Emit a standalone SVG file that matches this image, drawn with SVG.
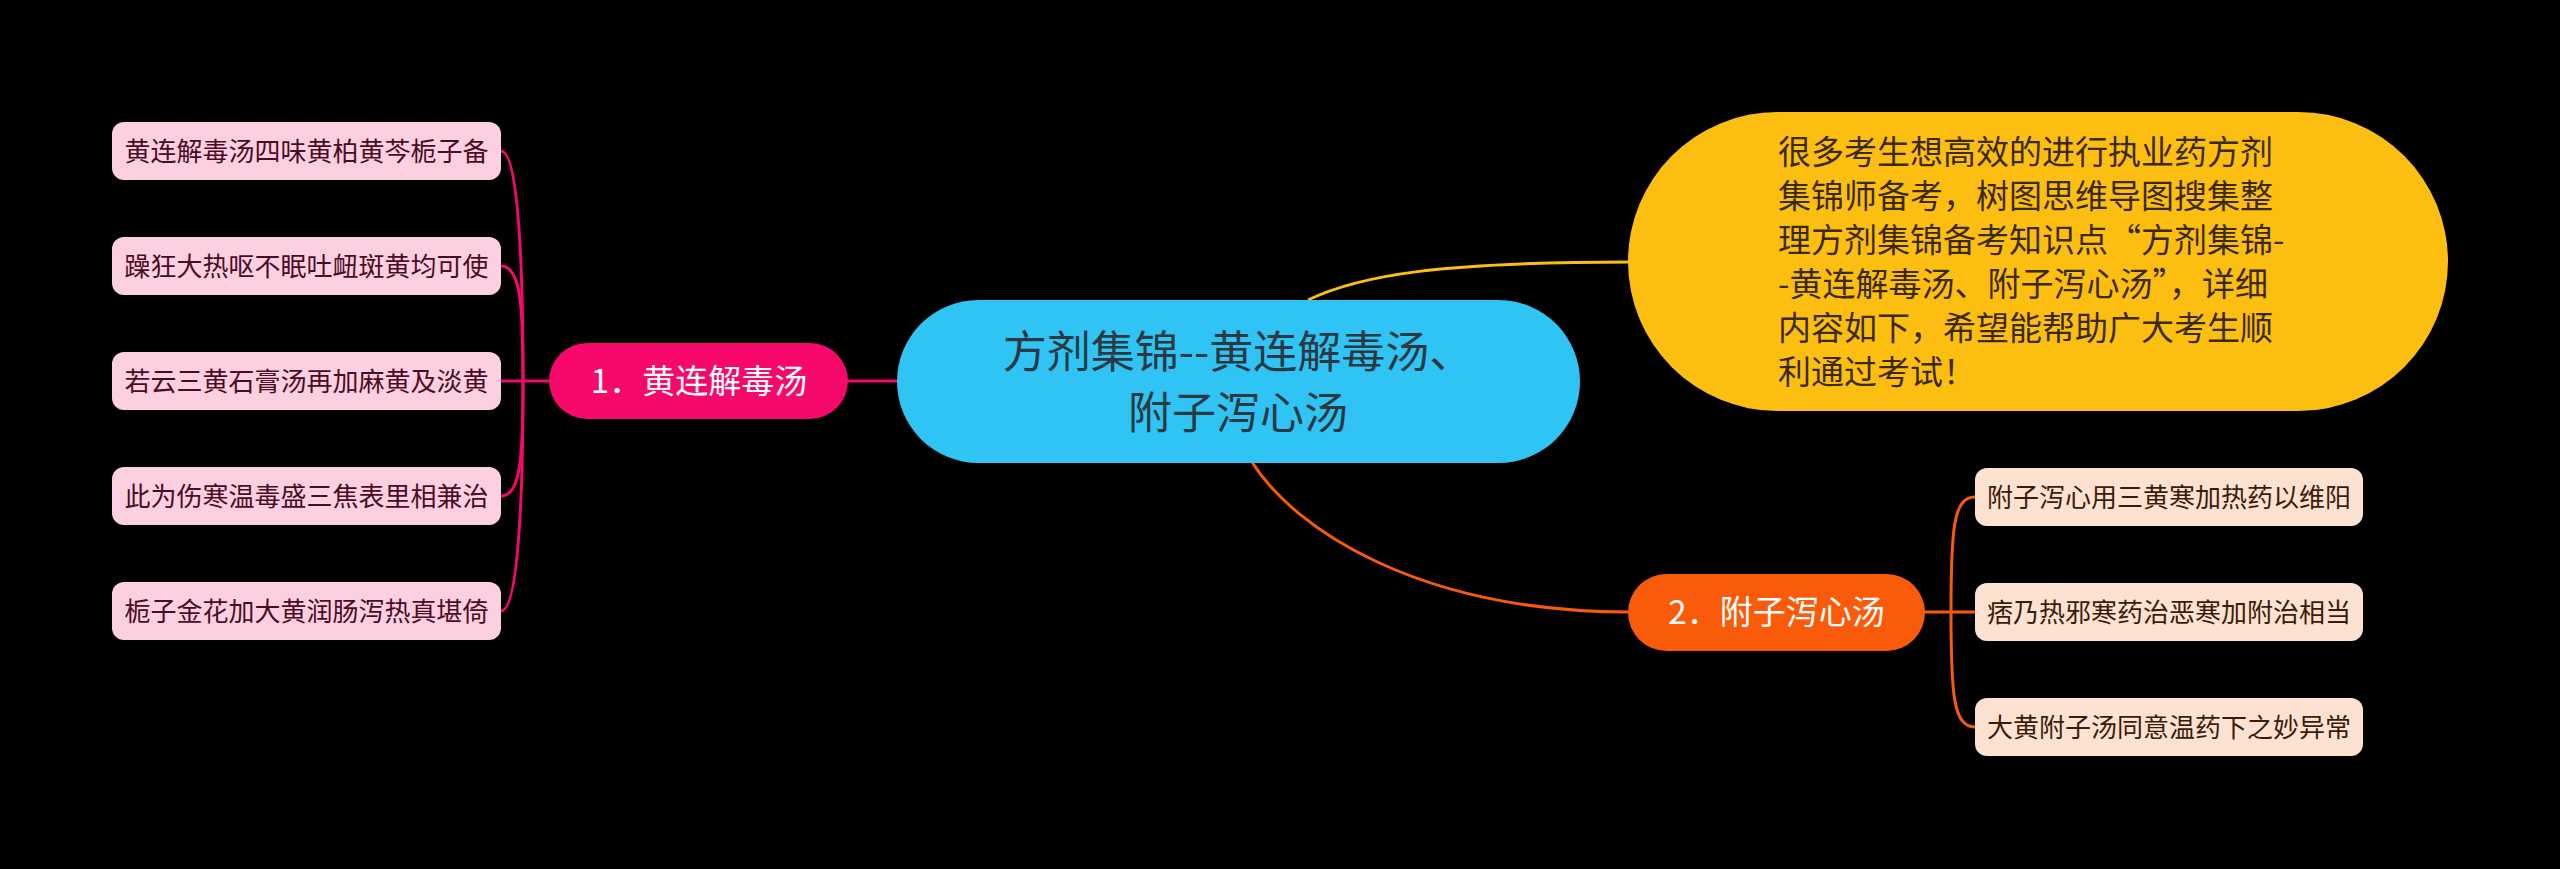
<svg xmlns="http://www.w3.org/2000/svg" width="2560" height="869" viewBox="0 0 2560 869">
<style>
text{font-family:"Noto Sans CJK SC","Noto Sans",sans-serif;}
.pl{fill:none;stroke:#f5086b;stroke-width:3;}
.ol{fill:none;stroke:#f85a0c;stroke-width:3;}
.yl{fill:none;stroke:#fdbe12;stroke-width:3;}
.pleaf{fill:#fcd0e1;}
.oleaf{fill:#fde2d2;}
.pt{font-size:26px;fill:#4c0b25;text-anchor:middle;}
.ot{font-size:26px;fill:#3d1b08;text-anchor:middle;}
.bt{font-size:33px;fill:#ffffff;text-anchor:middle;}
.ct{font-size:44px;fill:#2a3942;text-anchor:middle;}
</style>
<rect x="0" y="0" width="2560" height="869" fill="#000000"/>
<g id="connectors">
<path class="yl" d="M1308,300 C1360,275 1440,262 1630,262"/>
<path class="ol" d="M1252,462 C1295,530 1420,612 1630,612"/>
<path class="pl" d="M846,381 L899,381"/>
<path class="pl" d="M551,381 L523,381"/>
<path class="pl" d="M523,381 C523,300 521,151 501,151"/>
<path class="pl" d="M523,381 C523,306 521,266 501,266"/>
<path class="pl" d="M523,381 L501,381"/>
<path class="pl" d="M523,381 C523,456 521,496 501,496"/>
<path class="pl" d="M523,381 C523,462 521,611 501,611"/>
<path class="ol" d="M1923,612 L1977,612"/>
<path class="ol" d="M1951,612 C1951,531 1953,497 1975,497"/>
<path class="ol" d="M1951,612 C1951,693 1953,727 1975,727"/>
</g>
<g id="central">
<rect x="897" y="300" width="683" height="163" rx="81.5" fill="#2fc4f4"/>
<text class="ct" x="1238" y="368">方剂集锦--黄连解毒汤、</text>
<text class="ct" x="1238" y="429">附子泻心汤</text>
</g>
<g id="summary">
<rect x="1628" y="112" width="820" height="299" rx="149.5" fill="#fdbe12"/>
<text font-size="33" fill="#3a2a05">
<tspan x="1778" y="164">很多考生想高效的进行执业药方剂</tspan>
<tspan x="1778" y="208">集锦师备考，树图思维导图搜集整</tspan>
<tspan x="1778" y="252">理方剂集锦备考知识点“方剂集锦-</tspan>
<tspan x="1778" y="296">-黄连解毒汤、附子泻心汤”，详细</tspan>
<tspan x="1778" y="340">内容如下，希望能帮助广大考生顺</tspan>
<tspan x="1778" y="384">利通过考试！</tspan>
</text>
</g>
<g id="branch1">
<rect x="549" y="343" width="299" height="76" rx="38" fill="#f7086b"/>
<text class="bt" x="699" y="393">1．黄连解毒汤</text>
</g>
<g id="leaf1-1"><rect class="pleaf" x="112" y="122" width="389" height="58" rx="12"/><text class="pt" x="306.5" y="161">黄连解毒汤四味黄柏黄芩栀子备</text></g>
<g id="leaf1-2"><rect class="pleaf" x="112" y="237" width="389" height="58" rx="12"/><text class="pt" x="306.5" y="276">躁狂大热呕不眠吐衄斑黄均可使</text></g>
<g id="leaf1-3"><rect class="pleaf" x="112" y="352" width="389" height="58" rx="12"/><text class="pt" x="306.5" y="391">若云三黄石膏汤再加麻黄及淡黄</text></g>
<g id="leaf1-4"><rect class="pleaf" x="112" y="467" width="389" height="58" rx="12"/><text class="pt" x="306.5" y="506">此为伤寒温毒盛三焦表里相兼治</text></g>
<g id="leaf1-5"><rect class="pleaf" x="112" y="582" width="389" height="58" rx="12"/><text class="pt" x="306.5" y="621">栀子金花加大黄润肠泻热真堪倚</text></g>
<g id="branch2">
<rect x="1628" y="574" width="297" height="77" rx="38.5" fill="#f95b0b"/>
<text class="bt" x="1776.5" y="624">2．附子泻心汤</text>
</g>
<g id="leaf2-1"><rect class="oleaf" x="1975" y="468" width="388" height="58" rx="12"/><text class="ot" x="2169" y="507">附子泻心用三黄寒加热药以维阳</text></g>
<g id="leaf2-2"><rect class="oleaf" x="1975" y="583" width="388" height="58" rx="12"/><text class="ot" x="2169" y="622">痞乃热邪寒药治恶寒加附治相当</text></g>
<g id="leaf2-3"><rect class="oleaf" x="1975" y="698" width="388" height="58" rx="12"/><text class="ot" x="2169" y="737">大黄附子汤同意温药下之妙异常</text></g>
</svg>
